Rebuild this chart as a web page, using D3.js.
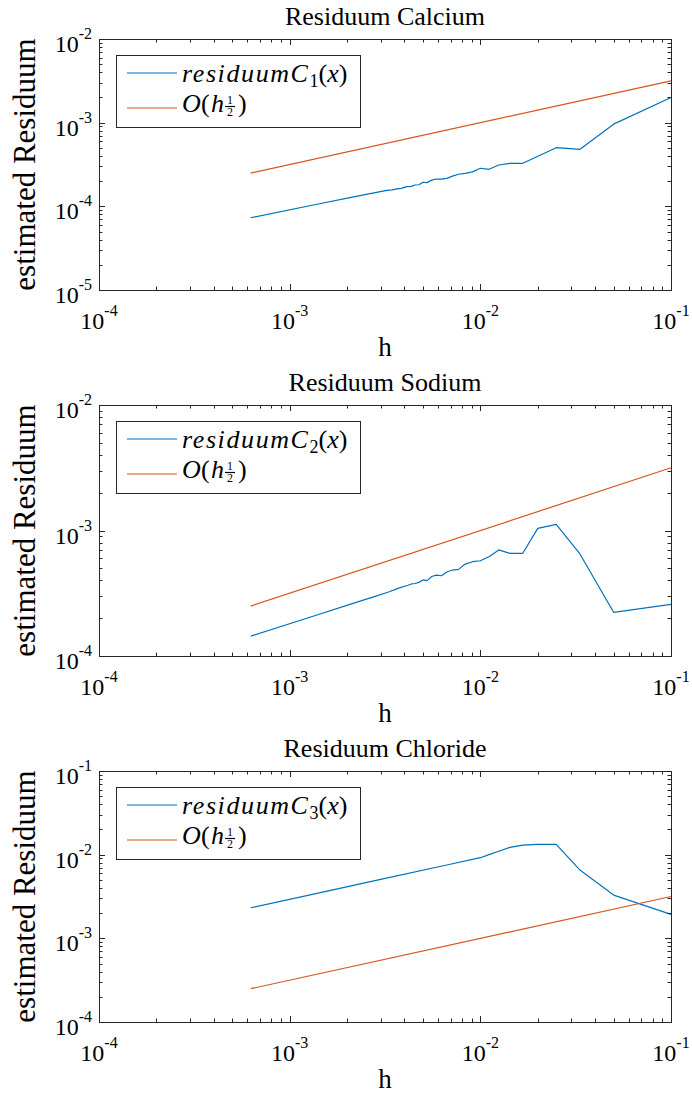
<!DOCTYPE html>
<html>
<head>
<meta charset="utf-8">
<script src="https://cdn.jsdelivr.net/npm/d3@7"></script>
<style>
  body { margin: 0; background: #fff; }
  svg { display: block; }
  text { font-family: "Liberation Serif", "Times New Roman", serif; fill: #000; }
</style>
</head>
<body>
<svg id="fig" width="692" height="1100"></svg>
<script>
'use strict';

// step sizes h and residuum values
var hC1 = [6.25e-4, 0.00139, 0.00207, 0.00264, 0.00323, 0.00345, 0.00364, 0.00385, 0.00411, 0.00435, 0.00454,
  0.00476, 0.005, 0.00526, 0.00556, 0.00588, 0.00625, 0.00667, 0.00714, 0.00769, 0.00833, 0.00909, 0.01,
  0.0111, 0.0125, 0.0143, 0.0167, 0.025, 0.0333, 0.05, 0.1];
var resC1 = [7.3e-5, 1.06e-4, 1.27e-4, 1.42e-4, 1.55e-4, 1.57e-4, 1.62e-4, 1.64e-4, 1.72e-4, 1.73e-4, 1.80e-4,
  1.81e-4, 1.94e-4, 1.92e-4, 2.06e-4, 2.12e-4, 2.12e-4, 2.16e-4, 2.30e-4, 2.42e-4, 2.48e-4, 2.58e-4, 2.85e-4,
  2.77e-4, 3.12e-4, 3.27e-4, 3.27e-4, 5.02e-4, 4.80e-4, 9.6e-4, 2.0e-3];

var hC2 = [6.25e-4, 0.00139, 0.00207, 0.00278, 0.00333, 0.0037, 0.00417, 0.00435, 0.004545, 0.00476, 0.005,
  0.00526, 0.00556, 0.00588, 0.00625, 0.00667, 0.00714, 0.00769, 0.00833, 0.00909, 0.01, 0.0111, 0.0125,
  0.0143, 0.0167, 0.02, 0.025, 0.0333, 0.05, 0.1];
var resC2 = [1.44e-4, 2.12e-4, 2.58e-4, 2.97e-4, 3.25e-4, 3.46e-4, 3.66e-4, 3.75e-4, 3.78e-4, 3.86e-4, 4.04e-4,
  3.99e-4, 4.30e-4, 4.41e-4, 4.36e-4, 4.67e-4, 4.84e-4, 4.90e-4, 5.40e-4, 5.64e-4, 5.74e-4, 6.18e-4, 7.0e-4,
  6.58e-4, 6.58e-4, 1.04e-3, 1.12e-3, 6.5e-4, 2.23e-4, 2.58e-4];

var hC3 = [6.25e-4, 0.00139, 0.003, 0.00667, 0.01, 0.0111, 0.0125, 0.0143, 0.0167, 0.02, 0.025, 0.0333, 0.05, 0.1];
var resC3 = [2.32e-3, 3.45e-3, 5.06e-3, 7.52e-3, 9.2e-3, 1.0e-2, 1.10e-2, 1.22e-2, 1.30e-2, 1.33e-2, 1.33e-2,
  6.55e-3, 3.29e-3, 1.93e-3];

// reference slope O(h^(1/2))
var hRef = [6.25e-4, 0.1];
var resRef = [2.5e-4, 3.16e-3];

var titles = ['Residuum Calcium', 'Residuum Sodium', 'Residuum Chloride'];
var subscripts = ['1', '2', '3'];
var yDomains = [[1e-5, 1e-2], [1e-4, 1e-2], [1e-4, 1e-1]];
var xDomain = [1e-4, 1e-1];

var BLUE = '#0072BD';
var ORANGE = '#D95319';
var AXIS = '#262626';

var svg = d3.select('#fig');
var left = 99, right = 671, plotH = 251;
var tops = [39, 405, 771];

function isDecade(v) {
  var e = Math.log10(v);
  return Math.abs(e - Math.round(e)) < 1e-6;
}

// "10" with a raised exponent, like MATLAB's 10^{-n}
function powerLabel(g, v, x, y, anchor) {
  var e = Math.round(Math.log10(v));
  var t = g.append('text')
    .attr('x', x)
    .attr('y', y)
    .attr('text-anchor', anchor)
    .style('font-size', '24px');
  t.append('tspan').text('10');
  t.append('tspan').attr('dy', -13).style('font-size', '16px').text('-' + Math.abs(e));
  return t;
}

function drawPanel(i) {
  var top = tops[i];
  var bot = top + plotH;
  var x = d3.scaleLog().domain(xDomain).range([left, right]);
  var y = d3.scaleLog().domain(yDomains[i]).range([bot, top]);
  var g = svg.append('g').attr('class', 'panel');

  var line = d3.line()
    .x(function(d) { return x(d[0]); })
    .y(function(d) { return y(d[1]); });

  var series = [
    { h: [hC1, hC2, hC3][i], r: [resC1, resC2, resC3][i], color: BLUE },
    { h: hRef, r: resRef, color: ORANGE }
  ];

  series.forEach(function(s) {
    g.append('path')
      .datum(d3.zip(s.h, s.r))
      .attr('d', line)
      .attr('fill', 'none')
      .attr('stroke', s.color)
      .attr('stroke-width', 1.2)
      .attr('stroke-linejoin', 'round');
  });

  // ticks on all four sides, pointing inward
  var xt = x.ticks();
  var yt = y.ticks();
  var ticks = g.append('g').attr('stroke', AXIS).attr('stroke-width', 1);

  xt.forEach(function(v) {
    var len = isDecade(v) ? 6 : 3.5;
    var px = Math.round(x(v)) + 0.5;
    ticks.append('line').attr('x1', px).attr('x2', px).attr('y1', bot).attr('y2', bot - len);
    ticks.append('line').attr('x1', px).attr('x2', px).attr('y1', top).attr('y2', top + len);
  });
  yt.forEach(function(v) {
    var len = isDecade(v) ? 6 : 3.5;
    var py = Math.round(y(v)) + 0.5;
    ticks.append('line').attr('y1', py).attr('y2', py).attr('x1', left).attr('x2', left + len);
    ticks.append('line').attr('y1', py).attr('y2', py).attr('x1', right).attr('x2', right - len);
  });

  g.append('rect')
    .attr('x', left + 0.5).attr('y', top + 0.5)
    .attr('width', right - left).attr('height', plotH)
    .attr('fill', 'none').attr('stroke', AXIS).attr('stroke-width', 1);

  xt.filter(isDecade).forEach(function(v) {
    powerLabel(g, v, x(v), bot + 39, 'middle');
  });
  yt.filter(isDecade).forEach(function(v) {
    powerLabel(g, v, left - 7, y(v) + 13, 'end');
  });

  g.append('text')
    .attr('x', (left + right) / 2).attr('y', top - 14)
    .attr('text-anchor', 'middle')
    .style('font-size', '26px')
    .text(titles[i]);

  g.append('text')
    .attr('x', (left + right) / 2).attr('y', bot + 66)
    .attr('text-anchor', 'middle')
    .style('font-size', '27px')
    .text('h');

  g.append('text')
    .attr('transform', 'translate(35,' + (top + plotH / 2) + ') rotate(-90)')
    .attr('text-anchor', 'middle')
    .style('font-size', '31px')
    .text('estimated Residuum');

  drawLegend(g, top, i);
}

function drawLegend(g, top, i) {
  var lg = g.append('g').attr('transform', 'translate(116,' + (top + 16) + ')');
  lg.append('rect')
    .attr('x', 0.5).attr('y', 0.5).attr('width', 244).attr('height', 72)
    .attr('fill', '#fff').attr('stroke', AXIS).attr('stroke-width', 1);

  lg.append('line').attr('x1', 11).attr('x2', 61).attr('y1', 18).attr('y2', 18)
    .attr('stroke', BLUE).attr('stroke-width', 1.2);
  lg.append('line').attr('x1', 11).attr('x2', 61).attr('y1', 53).attr('y2', 53)
    .attr('stroke', ORANGE).attr('stroke-width', 1.2);

  var t1 = lg.append('text').attr('x', 66).attr('y', 27).style('font-size', '26px');
  t1.append('tspan').style('font-style', 'italic').style('letter-spacing', '1.6px').text('residuumC');
  t1.append('tspan').attr('dy', 5).style('font-size', '18px').text(subscripts[i]);
  t1.append('tspan').attr('dy', -5).text('(');
  t1.append('tspan').style('font-style', 'italic').text('x');
  t1.append('tspan').text(')');

  var t2 = lg.append('g');
  t2.append('text').attr('x', 66).attr('y', 57).style('font-size', '26px')
    .style('font-style', 'italic').text('O');
  t2.append('text').attr('x', 85).attr('y', 57).style('font-size', '26px').text('(');
  t2.append('text').attr('x', 95).attr('y', 57).style('font-size', '26px')
    .style('font-style', 'italic').text('h');
  t2.append('text').attr('x', 114).attr('y', 49).attr('text-anchor', 'middle')
    .style('font-size', '12px').text('1');
  t2.append('line').attr('x1', 109).attr('x2', 119).attr('y1', 51.5).attr('y2', 51.5)
    .attr('stroke', '#000').attr('stroke-width', 1.2);
  t2.append('text').attr('x', 114).attr('y', 61).attr('text-anchor', 'middle')
    .style('font-size', '12px').text('2');
  t2.append('text').attr('x', 122).attr('y', 57).style('font-size', '26px').text(')');
}

[0, 1, 2].forEach(drawPanel);
</script>
</body>
</html>
